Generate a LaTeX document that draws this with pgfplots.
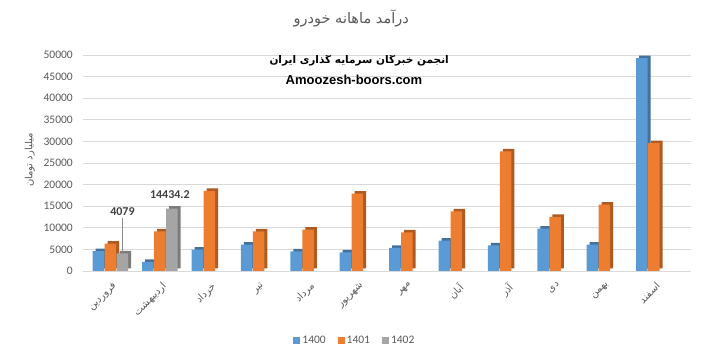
\documentclass[border=0pt]{standalone}
\usepackage{pgfplots}
\pgfplotsset{compat=1.18}
\usepackage{pgfplotstable}
\usepackage{fontspec}
\setmainfont{Carlito}
\newfontfamily\fa[Script=Arabic]{DejaVu Sans}
\newfontfamily\lat{Liberation Sans}
\TeXXeTstate=1
\definecolor{cA}{HTML}{5B9BD5}
\definecolor{cB}{HTML}{ED7D31}
\definecolor{cC}{HTML}{A5A5A5}
\definecolor{sA}{HTML}{41719C}
\definecolor{sB}{HTML}{AE5A21}
\definecolor{sC}{HTML}{7C7C7C}
\definecolor{txt}{HTML}{595959}
\definecolor{gridc}{HTML}{D9D9D9}

\pgfplotstableread{
x y
0 4600
1 2120
2 4970
3 6120
4 4570
5 4340
6 5350
7 7040
8 5940
9 9800
10 6120
11 49300
}\dA
\pgfplotstableread{
x y
0 6350
1 9190
2 18520
3 9190
4 9580
5 17900
6 8960
7 13810
8 27700
9 12520
10 15360
11 29600
}\dB
\pgfplotstableread{
x y
0 4079
1 14434.2
}\dC

\begin{document}
\begin{tikzpicture}
\path[use as bounding box] (0,0) rectangle (709bp,358bp);
\begin{axis}[
  at={(83.3bp,87bp)}, anchor=south west,
  scale only axis, width=607.6bp, height=216bp,
  xmin=-0.55, xmax=11.75, ymin=0, ymax=50000,
  ybar, bar width=11.5bp,
  xtick={0,...,11},
  xticklabels={
    {\fa\beginR فروردین\endR},
    {\fa\beginR اردیبهشت\endR},
    {\fa\beginR خرداد\endR},
    {\fa\beginR تیر\endR},
    {\fa\beginR مرداد\endR},
    {\fa\beginR شهریور\endR},
    {\fa\beginR مهر\endR},
    {\fa\beginR آبان\endR},
    {\fa\beginR آذر\endR},
    {\fa\beginR دی\endR},
    {\fa\beginR بهمن\endR},
    {\fa\beginR اسفند\endR}},
  xticklabel style={rotate=45, anchor=north east, font=\fontsize{10bp}{11bp}\selectfont, text=txt, yshift=-5bp, xshift=-3bp},
  ytick={0,5000,...,50000},
  scaled y ticks=false,
  /pgf/number format/assume math mode=true,
  yticklabel style={/pgf/number format/.cd, fixed, 1000 sep={}, /tikz/.cd, font=\fontsize{11.5bp}{13bp}\selectfont, text=txt, xshift=-7bp},
  ymajorgrids, grid style={draw=gridc, line width=0.8bp},
  axis line style={draw=none},
  major tick length=0pt,
  legend style={at={(0.447,-0.32)}, anchor=center, draw=none, fill=none,
    legend columns=3, font=\fontsize{11.5bp}{13bp}\selectfont, text=txt,
    /tikz/every even column/.append style={column sep=10bp}},
  legend image code/.code={\fill[#1,draw=none] (0bp,-3.5bp) rectangle (7bp,3.5bp);},
  title={\fa\beginR درآمد ماهانه خودرو\endR},
  title style={at={(0.441,1.14)}, anchor=center, font=\fontsize{14.5bp}{16bp}\selectfont, text=txt},
  ylabel={\fa\beginR میلیارد تومان\endR},
  ylabel style={at={(-0.088,0.514)}, anchor=center, rotate=0, font=\fontsize{10bp}{11bp}\selectfont, text=txt},
]
% depth (side/top) faces
\addplot[fill=sA, draw=none, bar shift=-12bp, xshift=3bp, yshift=2.5bp, forget plot] table[x=x,y=y]{\dA};
\addplot[fill=sB, draw=none, bar shift=0bp, xshift=3bp, yshift=2.5bp, forget plot] table[x=x,y=y]{\dB};
\addplot[fill=sC, draw=none, bar shift=12bp, xshift=3bp, yshift=2.5bp, forget plot] table[x=x,y=y]{\dC};
% front faces
\addplot[fill=cA, draw=none, bar shift=-12bp] table[x=x,y=y]{\dA};
\addplot[fill=cB, draw=none, bar shift=0bp] table[x=x,y=y]{\dB};
\addplot[fill=cC, draw=none, bar shift=12bp] table[x=x,y=y]{\dC};
\legend{1400,1401,1402}
% data labels
\draw[txt!70, line width=0.6bp] ([xshift=12bp]axis cs:0,4400) -- ([xshift=12bp]axis cs:0,12300);
\node[font=\bfseries\fontsize{12bp}{14bp}\selectfont, text=black!75] at ([xshift=12bp]axis cs:0,13740) {4079};
\node[font=\bfseries\fontsize{12bp}{14bp}\selectfont, text=black!75] at ([xshift=10bp]axis cs:1,17670) {14434.2};
% watermark
\node[font=\fa\bfseries\fontsize{10.5bp}{12bp}\selectfont] at (axis description cs:0.454,0.977) {\beginR انجمن خبرگان سرمایه گذاری ایران\endR};
\node[font=\lat\bfseries\fontsize{13bp}{15bp}\selectfont] at (axis description cs:0.4455,0.884) {Amoozesh-boors.com};
\end{axis}
\end{tikzpicture}
\end{document}
